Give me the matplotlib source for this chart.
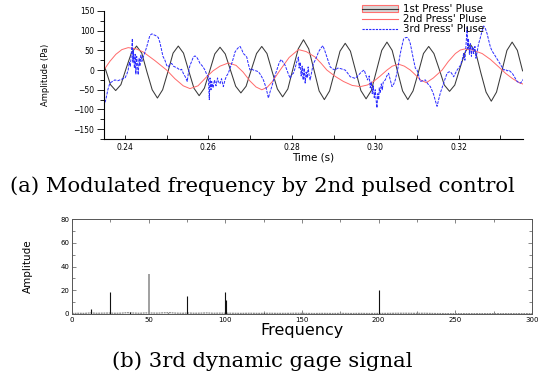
import matplotlib
matplotlib.use("Agg")
import matplotlib.pyplot as plt
from matplotlib.patches import Patch
from matplotlib.lines import Line2D
from matplotlib.legend_handler import HandlerTuple
from matplotlib.ticker import MultipleLocator

# ---------------- data: panel (a) ----------------
black_t = [0.2353, 0.23655, 0.2378, 0.23905, 0.2403, 0.24155, 0.2428, 0.24405, 0.2453, 0.24655,
           0.2478, 0.24905, 0.2503, 0.25155, 0.2528, 0.25405, 0.2553, 0.25655, 0.2578, 0.25905,
           0.2603, 0.26155, 0.2628, 0.26405, 0.2653, 0.26655, 0.2678, 0.26905, 0.2703, 0.27155,
           0.2728, 0.27405, 0.2753, 0.27655, 0.2778, 0.27905, 0.2803, 0.28155, 0.2828, 0.28405,
           0.2853, 0.28655, 0.2878, 0.28905, 0.2903, 0.29155, 0.2928, 0.29405, 0.2953, 0.29655,
           0.2978, 0.29905, 0.3003, 0.30155, 0.3028, 0.30405, 0.3053, 0.30655, 0.3078, 0.30905,
           0.3103, 0.31155, 0.3128, 0.31405, 0.3153, 0.31655, 0.3178, 0.31905, 0.3203, 0.32155,
           0.3228, 0.32405, 0.3253, 0.32655, 0.3278, 0.32905, 0.3303, 0.33155, 0.3328, 0.33405, 0.3353]
black_v = [4, -37, -52, -37, 4, 43, 61, 43, -5, -50,
           -71, -50, -5, 43, 61, 43, -2, -46, -65, -46,
           -3, 41, 58, 41, 0, -41, -58, -41, 1, 42,
           60, 42, -4, -48, -68, -48, 4, 54, 77, 54,
           1, -53, -75, -53, -3, 48, 68, 48, -2, -52,
           -73, -52, -1, 50, 71, 50, -2, -53, -75, -53,
           -7, 42, 60, 42, 3, -38, -54, -38, 5, 46,
           65, 46, -7, -56, -79, -56, -4, 50, 71, 50, -2]

red_t = [0.23496, 0.2364, 0.23784, 0.23928, 0.24079, 0.24264, 0.24439, 0.2472, 0.25001, 0.252,
         0.25399, 0.2556, 0.25752, 0.25961, 0.26112, 0.2628, 0.26479, 0.26664, 0.26832, 0.27,
         0.27144, 0.27281, 0.27408, 0.27528, 0.2772, 0.27936, 0.28159, 0.28344, 0.2856, 0.28704,
         0.28841, 0.2904, 0.29239, 0.29448, 0.2964, 0.29808, 0.29959, 0.3012, 0.30281, 0.30408,
         0.30559, 0.30696, 0.3084, 0.3096, 0.3108, 0.31224, 0.31392, 0.31601, 0.31752, 0.3192,
         0.3204, 0.3216, 0.32328, 0.32561, 0.3276, 0.32959, 0.3312, 0.33281, 0.33432, 0.33576]
red_v = [0, 22, 40, 52, 57, 54, 46, 24, 0, -22,
         -40, -47, -40, -17, -2, 10, 18, 12, -5, -28,
         -43, -50, -44, -30, 0, 32, 52, 47, 33, 17,
         0, -16, -29, -39, -42, -38, -29, -15, 0, 10,
         15, 10, 0, -12, -25, -32, -20, 0, 22, 42,
         51, 54, 51, 42, 27, 8, -8, -21, -31, -37]

blue_t = [0.23496, 0.23544, 0.23592, 0.2364, 0.23712, 0.2376, 0.23832, 0.2388, 0.23952, 0.24,
          0.24048, 0.24079, 0.24108, 0.24132, 0.24156, 0.2418, 0.24192, 0.24204, 0.24228, 0.24247,
          0.24264, 0.24283, 0.243, 0.24319, 0.24341, 0.2436, 0.24384, 0.24408, 0.24439, 0.2448,
          0.24521, 0.24564, 0.246, 0.24648, 0.24679, 0.24732, 0.24799, 0.2484, 0.24881, 0.24912,
          0.2496, 0.25001, 0.25039, 0.2508, 0.25121, 0.25164, 0.252, 0.2526, 0.2532, 0.25361,
          0.25399, 0.25452, 0.25495, 0.25524, 0.2556, 0.25601, 0.25639, 0.2568, 0.25721, 0.25764,
          0.258, 0.2586, 0.2592, 0.25956, 0.25999, 0.26023, 0.2604, 0.26064, 0.26081, 0.26112,
          0.26148, 0.26184, 0.2622, 0.26239, 0.2628, 0.26316, 0.26359, 0.264, 0.26436, 0.26479,
          0.2652, 0.26561, 0.26599, 0.2664, 0.267, 0.2676, 0.26801, 0.26839, 0.2688, 0.26921,
          0.26959, 0.27, 0.27036, 0.27079, 0.27144, 0.27199, 0.27252, 0.27319, 0.27384, 0.27439,
          0.2748, 0.27521, 0.27576, 0.27641, 0.27696, 0.27744, 0.27792, 0.2784, 0.279, 0.2796,
          0.27996, 0.28039, 0.2808, 0.28116, 0.28159, 0.28176, 0.282, 0.28224, 0.28248, 0.28272,
          0.28296, 0.2832, 0.28344, 0.28368, 0.28392, 0.28416, 0.2844, 0.28476, 0.28512, 0.2856,
          0.28601, 0.28639, 0.28692, 0.28745, 0.28788, 0.28841, 0.28879, 0.2892, 0.2898, 0.2904,
          0.291, 0.2916, 0.2922, 0.2928, 0.2934, 0.294, 0.2946, 0.2952, 0.2958, 0.2964,
          0.29688, 0.29736, 0.29772, 0.29815, 0.29856, 0.2988, 0.29904, 0.29928, 0.29952, 0.29976,
          0.3, 0.30024, 0.30041, 0.3006, 0.30084, 0.30096, 0.3012, 0.30144, 0.30168, 0.30192,
          0.3024, 0.30276, 0.30319, 0.3036, 0.30401, 0.30444, 0.3048, 0.30535, 0.30564, 0.306,
          0.30641, 0.30679, 0.3072, 0.30761, 0.30804, 0.3084, 0.30881, 0.30919, 0.3096, 0.31001,
          0.31044, 0.3108, 0.3114, 0.312, 0.3126, 0.3132, 0.31361, 0.31399, 0.3144, 0.31481,
          0.31519, 0.3156, 0.31601, 0.31639, 0.3168, 0.31721, 0.31759, 0.318, 0.31841, 0.31879,
          0.3192, 0.31961, 0.31999, 0.3204, 0.32081, 0.32119, 0.32148, 0.32172, 0.32201, 0.32215,
          0.32232, 0.32256, 0.3228, 0.32304, 0.32328, 0.32359, 0.32388, 0.32412, 0.32441, 0.32472,
          0.3252, 0.32561, 0.32599, 0.3264, 0.32681, 0.32719, 0.3276, 0.32801, 0.32839, 0.3288,
          0.32921, 0.32959, 0.33, 0.33041, 0.33079, 0.3312, 0.33161, 0.33199, 0.3324, 0.33281,
          0.33324, 0.3336, 0.33401, 0.33444, 0.3348, 0.33521, 0.33559]
blue_v = [-92, -75, -50, -33, -28, -25, -27, -25, -22, -21,
          -10, 0, 20, 10, 45, 80, 20, 50, 5, 40,
          -10, 35, 15, -12, 30, 10, 38, 22, 33, 45,
          58, 75, 88, 92, 90, 88, 83, 70, 50, 35,
          25, 12, 8, 15, 17, 10, 8, 5, 0, 2,
          -8, -18, -29, -5, 12, 22, 33, 36, 33, 25,
          17, 10, 0, -10, -17, -75, -20, -50, -29, -45,
          -25, -40, -20, -29, -35, -22, -42, -25, -15, -8,
          5, 17, 30, 46, 55, 60, 52, 42, 38, 33,
          15, 0, 3, 0, -2, -4, -12, -25, -45, -71,
          -55, -42, -20, 0, 18, 27, 20, 12, -5, -21,
          -12, -8, 5, 20, 33, 5, 20, -15, 10, -25,
          5, -33, -5, -20, 8, -15, -25, -5, 15, 25,
          35, 46, 55, 62, 50, 33, 20, 8, 3, 0,
          5, 4, 2, 0, -8, -17, -19, -21, -15, -8,
          -3, 0, -12, -25, -15, -45, -30, -60, -40, -70,
          -50, -80, -96, -60, -75, -45, -58, -35, -50, -30,
          -25, -15, -8, -25, -42, -35, -25, 0, 20, 42,
          62, 79, 82, 83, 78, 67, 45, 25, 5, 0,
          -15, -29, -27, -25, -35, -42, -52, -62, -78, -92,
          -75, -58, -45, -33, -20, -8, -5, -4, -10, -17,
          -8, 0, 6, 12, 25, 42, 25, 60, 108, 55,
          80, 40, 67, 35, 60, 42, 60, 30, 46, 65,
          83, 100, 112, 105, 92, 75, 58, 48, 42, 35,
          28, 21, 14, 7, 0, 2, -2, 0, -4, -8,
          -15, -22, -29, -32, -33, -28, -21]

series_labels = ["1st Press' Pluse", "2nd Press' Pluse", "3rd Press' Pluse"]
time_ticks = [0.24, 0.26, 0.28, 0.30, 0.32]
time_ticklabels = ["0.24", "0.26", "0.28", "0.30", "0.32"]
amp_ticks = [-150, -100, -50, 0, 50, 100, 150]

# ---------------- data: panel (b) ----------------
spike_f = [12.5, 25, 37.5, 50, 62.5, 75, 100, 100.6, 125, 200]
spike_a = [4.5, 18.4, 1.5, 33.6, 1.2, 15.0, 18.4, 11.6, 1.0, 20.6]
base_f = [0, 4, 8, 12, 16, 20, 24, 28, 32, 36, 40, 44, 48, 52, 56, 60, 64, 68, 72, 76,
          80, 84, 88, 92, 96, 104, 110, 116, 122, 128, 134, 140, 146, 152, 158, 164, 170,
          176, 182, 188, 194, 206, 212, 218, 224, 230, 236, 245, 260, 275, 290, 300]
base_a = [0.4, 0.6, 0.5, 0.9, 0.6, 0.7, 0.8, 0.6, 0.7, 1.1, 0.8, 0.6, 0.9, 0.8, 0.7, 1.0, 1.1, 0.7, 0.6, 0.8,
          0.6, 0.7, 0.9, 0.6, 0.7, 0.6, 0.5, 0.6, 0.5, 0.6, 0.5, 0.5, 0.6, 0.5, 0.4, 0.5, 0.4,
          0.5, 0.4, 0.5, 0.4, 0.5, 0.6, 0.6, 0.5, 0.6, 0.4, 0.3, 0.3, 0.3, 0.3, 0.3]
freq_ticks = [0, 50, 100, 150, 200, 250, 300]
spec_ticks = [0, 20, 40, 60, 80]

caption_a = "(a) Modulated frequency by 2nd pulsed control"
caption_b = "(b) 3rd dynamic gage signal"

# ---------------- figure ----------------
W, H = 552, 380
fig = plt.figure(figsize=(W / 100, H / 100), dpi=100)
fig.patch.set_facecolor("white")

BLUE = "#2a2aff"
RED = "#ff6a6a"
DARK = "#3a3a3a"

# panel (a)
axa = fig.add_axes([104 / W, 1 - 139 / H, (523 - 104) / W, (139 - 11) / H])
axa.plot(black_t, black_v, color=DARK, lw=0.75)
axa.plot(red_t, red_v, color=RED, lw=0.7)
axa.plot(blue_t, blue_v, color=BLUE, lw=0.7, linestyle=(0, (3, 1.2)))
axa.set_xlim(0.235, 0.3354)
axa.set_ylim(-175, 150)
axa.spines["top"].set_visible(False)
axa.spines["right"].set_visible(False)
for s in ("left", "bottom"):
    axa.spines[s].set_linewidth(0.8)
axa.set_xticks(time_ticks)
axa.set_xticklabels(time_ticklabels)
axa.xaxis.set_minor_locator(MultipleLocator(0.01))
axa.set_yticks(amp_ticks)
axa.yaxis.set_minor_locator(MultipleLocator(25))
axa.tick_params(axis="y", which="major", direction="out", length=5, width=0.6, labelsize=5.5, pad=2)
axa.tick_params(axis="y", which="minor", direction="out", length=3, width=0.6)
axa.tick_params(axis="x", which="major", direction="in", length=3, width=0.6, labelsize=5.5, pad=3)
axa.tick_params(axis="x", which="minor", direction="in", length=3, width=0.6)
axa.set_xlabel("Time (s)", fontsize=7.5, labelpad=0)
axa.set_ylabel("Amplitude (Pa)", fontsize=6, labelpad=17)

h1 = (Patch(facecolor="#d6d6d6", edgecolor="#ff7070", lw=0.8),
      Line2D([0], [0], color=DARK, lw=0.8))
h2 = Line2D([0], [0], color=RED, lw=0.8)
h3 = Line2D([0], [0], color=BLUE, lw=0.8, linestyle=(0, (2, 1)))
fig.legend([h1, h2, h3], series_labels, loc="upper left",
           bbox_to_anchor=(362 / W, 1 - 4 / H), frameon=False, fontsize=7.4,
           labelspacing=0.0, handlelength=3.5, handleheight=0.6, handletextpad=0.5,
           borderpad=0, borderaxespad=0,
           handler_map={tuple: HandlerTuple(ndivide=1)})

# panel (b)
axb = fig.add_axes([72 / W, 1 - 314 / H, (532 - 72) / W, (314 - 219) / H])
axb.plot(base_f, base_a, color="#8a8a8a", lw=0.9, linestyle=(0, (1.5, 0.6)))
spike_colors = ["#999999" if f == 50 else "#111111" for f in spike_f]
spike_w = [1.3 if f == 50 else 0.8 for f in spike_f]
axb.vlines(spike_f, 0, spike_a, colors=spike_colors, linewidths=spike_w)
axb.set_xlim(0, 300)
axb.set_ylim(0, 80)
axb.set_xticks(freq_ticks)
axb.set_yticks(spec_ticks)
axb.xaxis.set_minor_locator(MultipleLocator(25))
axb.yaxis.set_minor_locator(MultipleLocator(10))
for s in axb.spines.values():
    s.set_linewidth(0.7)
    s.set_color("#555555")
axb.tick_params(which="both", direction="in", top=True, right=True, width=0.5,
                labelsize=5, color="#555555")
axb.tick_params(which="major", length=3, pad=2)
axb.tick_params(which="minor", length=2)
axb.set_xlabel("Frequency", fontsize=11.5, labelpad=0)
axb.set_ylabel("Amplitude", fontsize=7.5, labelpad=20)

# captions
fig.text(262 / W, 1 - 186 / H, caption_a, ha="center", va="center",
         fontsize=15.2, family="DejaVu Serif")
fig.text(262 / W, 1 - 361 / H, caption_b, ha="center", va="center",
         fontsize=15.2, family="DejaVu Serif")

fig.savefig("out.png", dpi=100, facecolor="white")
